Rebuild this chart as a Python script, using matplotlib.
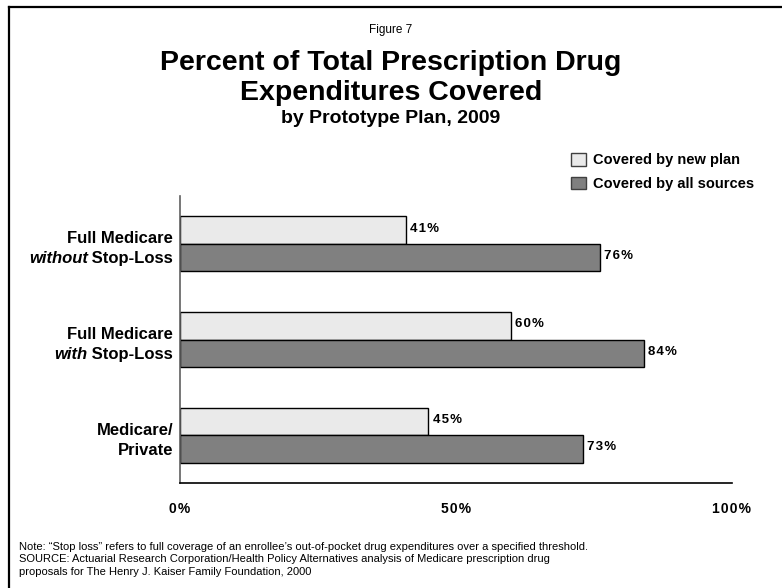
import matplotlib
matplotlib.use("Agg")
import matplotlib.pyplot as plt
from matplotlib.patches import Patch
from matplotlib.lines import Line2D

SANS = "Liberation Sans"

# data
plans_top = ["Full Medicare", "Full Medicare", "Medicare/"]
plans_bottom = [("without", " Stop-Loss"), ("with", " Stop-Loss"), ("", "Private")]
new_plan = [41, 60, 45]
all_sources = [76, 84, 73]
series_names = ["Covered by new plan", "Covered by all sources"]
ticks = [0, 50, 100]
tick_labels = ["0%", "50%", "100%"]

LIGHT = "#eaeaea"
DARK = "#808080"


def spaced(s):
    # the original labels are set with wide letter spacing
    return "\u200a".join(s)


fig = plt.figure(figsize=(7.82, 5.88), dpi=100)
W, H = 782, 588

# frame around the slide (open at right / bottom, as in the cropped original)
fig.add_artist(Line2D([9 / W, 9 / W], [0, 1 - 7 / H], color="black", lw=1.6))
fig.add_artist(Line2D([9 / W, 1], [1 - 7 / H, 1 - 7 / H], color="black", lw=1.6))

ax = fig.add_axes([180 / W, 1 - 483 / H, 552 / W, 287 / H])
y = list(range(len(new_plan)))
h = 0.286
ax.barh([v - h / 2 for v in y], new_plan, height=h, color=LIGHT, edgecolor="black", lw=1)
ax.barh([v + h / 2 for v in y], all_sources, height=h, color=DARK, edgecolor="black", lw=1)

for i in y:
    ax.annotate(spaced(f"{new_plan[i]}%"), (new_plan[i], i - h / 2), xytext=(3, 1),
                textcoords="offset points", va="center", ha="left",
                fontsize=9.5, fontweight="bold", family=SANS)
    ax.annotate(spaced(f"{all_sources[i]}%"), (all_sources[i], i + h / 2), xytext=(3, 1),
                textcoords="offset points", va="center", ha="left",
                fontsize=9.5, fontweight="bold", family=SANS)

ax.set_xlim(0, 100)
ax.set_ylim(2.5, -0.5)
ax.set_yticks([])
ax.set_xticks(ticks)
ax.set_xticklabels([spaced(t) for t in tick_labels], fontsize=10, fontweight="bold", family=SANS)
ax.tick_params(axis="x", length=0, pad=14)
for s in ["top", "right"]:
    ax.spines[s].set_visible(False)
ax.spines["left"].set_color("#606060")
ax.spines["left"].set_linewidth(1.2)
ax.spines["bottom"].set_color("black")
ax.spines["bottom"].set_linewidth(1.2)

# category labels
fig.canvas.draw()
rend = fig.canvas.get_renderer()
xr = 173 / W
for i in y:
    yc = 1 - (244 + 96 * i) / H
    fig.text(xr, yc + 1 / H, plans_top[i], ha="right", va="baseline",
             fontsize=12, fontweight="bold", family=SANS)
    it, rest = plans_bottom[i]
    t = fig.text(xr, yc - 19 / H, rest, ha="right", va="baseline",
                 fontsize=12, fontweight="bold", family=SANS)
    if it:
        bb = t.get_window_extent(rend)
        fig.text(bb.x0 / W + 0.5 / W, yc - 19 / H, it, ha="right", va="baseline",
                 fontsize=12, fontweight="bold", style="italic", family=SANS)

# titles
fig.text(0.5, 1 - 33 / H, "Figure 7", ha="center", va="baseline", fontsize=8.5, family=SANS)
fig.text(0.5, 1 - 70 / H, "Percent of Total Prescription Drug", ha="center", va="baseline",
         fontsize=20.5, fontweight="bold", family=SANS)
fig.text(0.5, 1 - 100 / H, "Expenditures Covered", ha="center", va="baseline",
         fontsize=20.5, fontweight="bold", family=SANS)
fig.text(0.5, 1 - 123 / H, "by Prototype Plan, 2009", ha="center", va="baseline",
         fontsize=14, fontweight="bold", family=SANS)

# legend
handles = [Patch(facecolor=LIGHT, edgecolor="#404040"), Patch(facecolor=DARK, edgecolor="#404040")]
fig.legend(handles, series_names, loc="upper left", bbox_to_anchor=(558 / W, 1 - 140 / H),
           frameon=False, prop={"family": SANS, "weight": "bold", "size": 10.5},
           handlelength=1.0, handleheight=0.95, handletextpad=0.5, labelspacing=0.65)

# footnotes
notes = [
    "Note: \u201cStop loss\u201d refers to full coverage of an enrollee\u2019s out-of-pocket drug expenditures over a specified threshold.",
    "SOURCE: Actuarial Research Corporation/Health Policy Alternatives analysis of Medicare prescription drug",
    "proposals for The Henry J. Kaiser Family Foundation, 2000",
]
for k, line in enumerate(notes):
    fig.text(19 / W, 1 - (550 + 12.5 * k) / H, line, ha="left", va="baseline",
             fontsize=8, family=SANS)

fig.savefig("out.png", dpi=100)
